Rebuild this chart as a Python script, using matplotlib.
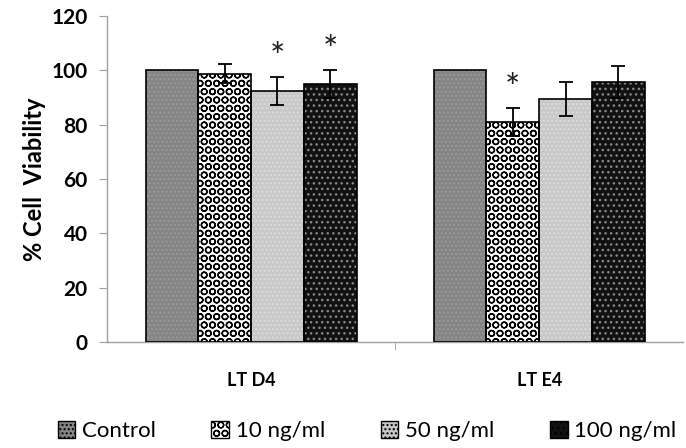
import numpy as np
import matplotlib
matplotlib.use('Agg')
import matplotlib.pyplot as plt
from matplotlib.patches import Patch

# --- dados ---
grupos = ['LT D4', 'LT E4']
tratamentos = ['Control', '10 ng/ml', '50 ng/ml', '100 ng/ml']
viabilidade = {
    'Control':   [100.0, 100.0],
    '10 ng/ml':  [98.8, 81.0],
    '50 ng/ml':  [92.4, 89.5],
    '100 ng/ml': [95.0, 95.8],
}
erros = {
    'Control':   [0.0, 0.0],
    '10 ng/ml':  [3.5, 5.0],
    '50 ng/ml':  [5.0, 6.2],
    '100 ng/ml': [5.0, 6.0],
}
significativo = {
    'Control':   [False, False],
    '10 ng/ml':  [False, True],
    '50 ng/ml':  [True, False],
    '100 ng/ml': [True, False],
}

# estilo de cada barra: (cor de fundo, cor da hachura, hachura)
estilos = {
    'Control':   ('#858585', '#9a9a9a', '....'),
    '10 ng/ml':  ('white', 'black', 'OO'),
    '50 ng/ml':  ('#c8c8c8', '#dcdcdc', '....'),
    '100 ng/ml': ('#111111', '#888888', '...'),
}

plt.rcParams['font.family'] = ['Lato', 'DejaVu Sans']
plt.rcParams['hatch.linewidth'] = 1.0

fig = plt.figure(figsize=(6.86, 4.48), dpi=100)
ax = fig.add_axes([0.156, 0.237, 0.84, 0.727])

x = np.arange(len(grupos))
largura = 0.183
for j, t in enumerate(tratamentos):
    pos = x + (j - 1.5) * largura
    fundo, cor_h, hachura = estilos[t]
    # fundo com hachura
    ax.bar(pos, viabilidade[t], largura, color=fundo, edgecolor=cor_h,
           hatch=hachura, linewidth=0, zorder=2)
    # contorno
    ax.bar(pos, viabilidade[t], largura, facecolor='none', edgecolor='black',
           linewidth=1.2, zorder=3)
    e = np.array(erros[t])
    mask = e > 0
    ax.errorbar(pos[mask], np.array(viabilidade[t])[mask], yerr=e[mask],
                fmt='none', ecolor='black', elinewidth=1.3, capsize=5,
                capthick=1.3, zorder=4)
    for k in range(len(grupos)):
        if significativo[t][k]:
            ax.text(pos[k], viabilidade[t][k] + erros[t][k] + 1.0, '*',
                    ha='center', va='bottom', fontsize=26, color='#222222')

ax.set_xlim(-0.5, 1.5)
ax.set_ylim(0, 120)
ax.set_yticks(range(0, 121, 20))
ax.set_xticks(x)
ax.set_xticklabels(grupos, fontsize=13, fontweight='bold')
ax.set_xticks([0.5], minor=True)
ax.tick_params(axis='x', which='major', length=0, pad=22)
ax.tick_params(axis='x', which='minor', length=6, color='#a0a0a0')
ax.tick_params(axis='y', length=6, color='#a0a0a0', labelsize=15, pad=8)
for lbl in ax.get_yticklabels():
    lbl.set_fontweight('bold')
for s in ['top', 'right']:
    ax.spines[s].set_visible(False)
for s in ['left', 'bottom']:
    ax.spines[s].set_color('#a0a0a0')
    ax.spines[s].set_linewidth(1.0)
ax.set_ylabel('% Cell  Viability', fontsize=17, fontweight='bold', labelpad=4)

handles = []
for t in tratamentos:
    fundo, cor_h, hachura = estilos[t]
    handles.append(Patch(facecolor=fundo, edgecolor='black', hatch=hachura,
                         linewidth=1.0, label=t))
fig.legend(handles=handles, loc='lower center', ncol=4, frameon=False,
           fontsize=16, bbox_to_anchor=(0.535, -0.03), handlelength=0.8,
           handleheight=0.8, handletextpad=0.3, columnspacing=2.5)

fig.savefig('out.png', dpi=100)
